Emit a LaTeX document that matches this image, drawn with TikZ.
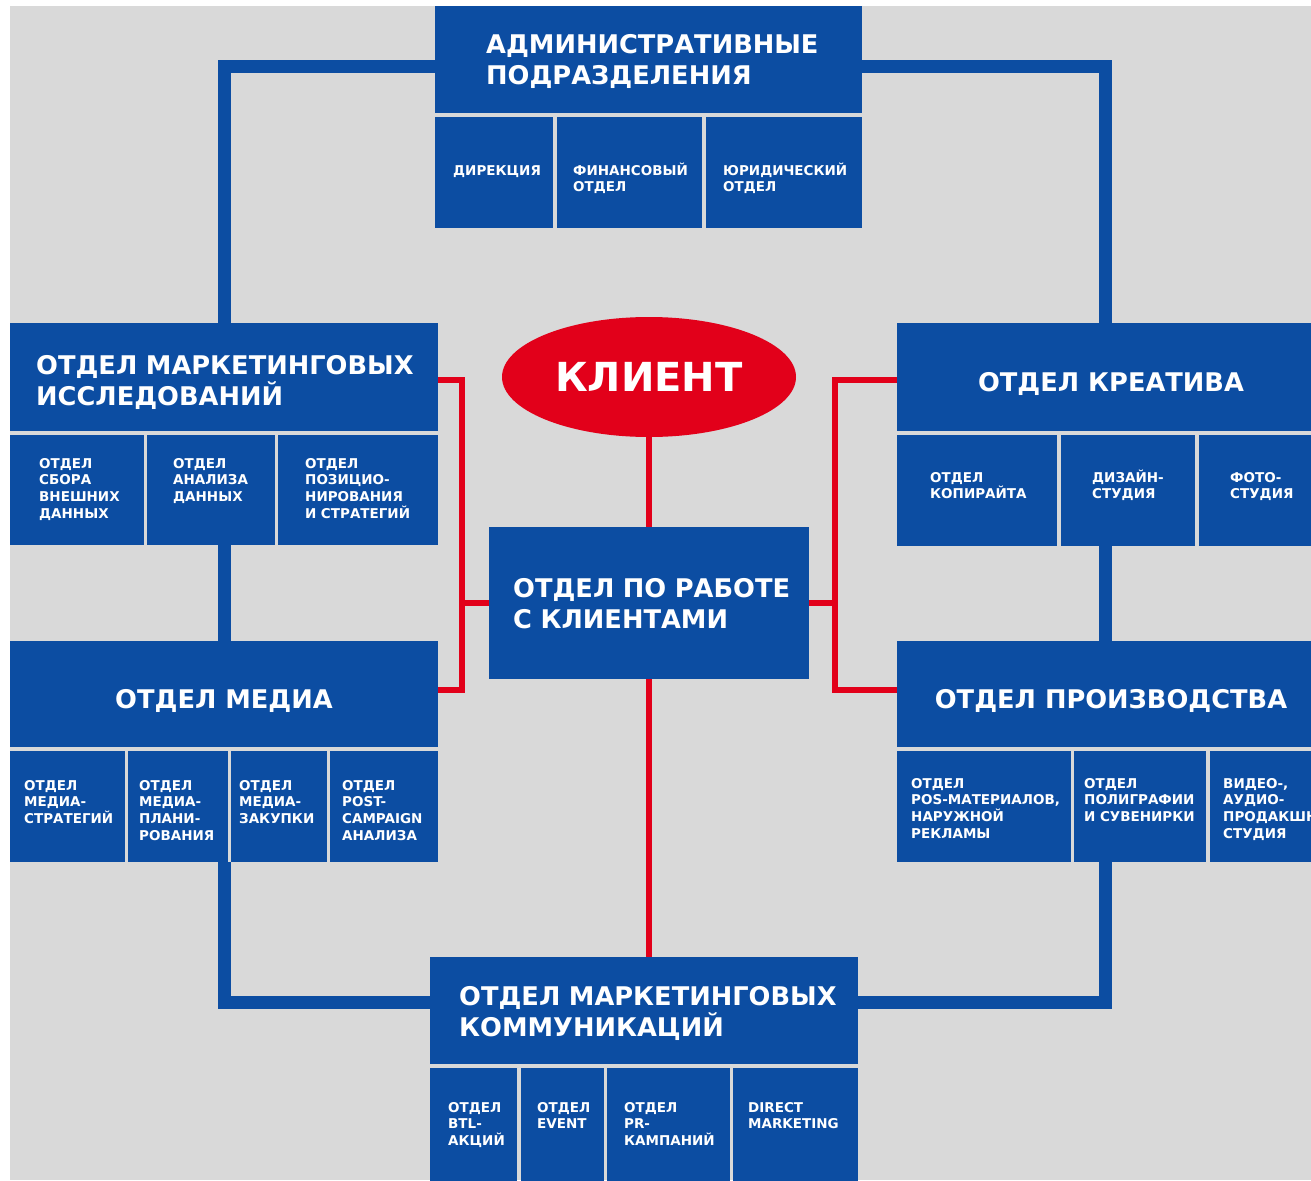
\documentclass[tikz,border=0pt]{standalone}
\usepackage{fontspec}
\setmainfont{DejaVu Sans}
\usepackage{tikz}
\usetikzlibrary{shapes.geometric}
\definecolor{orgblue}{HTML}{0C4DA2}
\definecolor{orgred}{HTML}{E2001A}
\definecolor{orggray}{HTML}{D9D9D9}
\tikzset{/ORG/S/box/.style={
	shape=rectangle, fill=orgblue, inner sep=0pt, outer sep=0pt, anchor=north west
}}
\tikzset{/ORG/S/title/.style={
	text=white, inner sep=0pt, font=\bfseries\fontsize{25.7}{31}\selectfont,
	text width=400pt, align=left, anchor=base west
}}
\tikzset{/ORG/S/caption/.style={
	text=white, inner sep=0pt, font=\bfseries\fontsize{25.7}{31}\selectfont, anchor=base
}}
\tikzset{/ORG/S/note/.style={
	text=white, inner sep=0pt, font=\bfseries\fontsize{13.5}{16.7}\selectfont,
	text width=170pt, align=left, anchor=base west
}}
\tikzset{/ORG/S/client/.style={
	shape=ellipse, fill=orgred, text=white, inner sep=0pt,
	minimum width=294pt, minimum height=120pt, font=\bfseries\fontsize{40}{44}\selectfont
}}
\tikzset{/ORG/S/blueline/.style={draw=orgblue, line width=13pt, line join=miter}}
\tikzset{/ORG/S/redline/.style={draw=orgred, line width=6pt, line join=miter}}

\begin{document}
\begin{tikzpicture}[x=1pt, y=-1pt]
			\useasboundingbox (0,0) rectangle (1311,1180);
			\clip (0,0) rectangle (1311,1180);
			\fill[orggray] (10,6) rectangle (1311,1180);
			\path (435,6) node[/ORG/S/box, minimum width=427pt, minimum height=107pt] (adm) {};
			\path (adm.south west) ++(0,4) node[/ORG/S/box, minimum width=118pt, minimum height=111pt] (dir) {};
			\path (dir.north east) ++(4,0) node[/ORG/S/box, minimum width=145pt, minimum height=111pt] (fin) {};
			\path (fin.north east) ++(4,0) node[/ORG/S/box, minimum width=156pt, minimum height=111pt] (law) {};
			\path (10,323) node[/ORG/S/box, minimum width=428pt, minimum height=108pt] (research) {};
			\path (research.south west) ++(0,4) node[/ORG/S/box, minimum width=134pt, minimum height=110pt] (collect) {};
			\path (collect.north east) ++(3,0) node[/ORG/S/box, minimum width=128pt, minimum height=110pt] (analysis) {};
			\path (analysis.north east) ++(3,0) node[/ORG/S/box, minimum width=160pt, minimum height=110pt] (position) {};
			\path (897,323) node[/ORG/S/box, minimum width=428pt, minimum height=108pt] (creative) {};
			\path (creative.south west) ++(0,4) node[/ORG/S/box, minimum width=160pt, minimum height=111pt] (copy) {};
			\path (copy.north east) ++(4,0) node[/ORG/S/box, minimum width=134pt, minimum height=111pt] (design) {};
			\path (design.north east) ++(4,0) node[/ORG/S/box, minimum width=130pt, minimum height=111pt] (photo) {};
			\path (10,641) node[/ORG/S/box, minimum width=428pt, minimum height=106pt] (media) {};
			\path (media.south west) ++(0,4) node[/ORG/S/box, minimum width=115pt, minimum height=111pt] (strat) {};
			\path (strat.north east) ++(3,0) node[/ORG/S/box, minimum width=100pt, minimum height=111pt] (plan) {};
			\path (plan.north east) ++(3,0) node[/ORG/S/box, minimum width=96pt, minimum height=111pt] (buy) {};
			\path (buy.north east) ++(3,0) node[/ORG/S/box, minimum width=108pt, minimum height=111pt] (post) {};
			\path (897,641) node[/ORG/S/box, minimum width=428pt, minimum height=106pt] (prod) {};
			\path (prod.south west) ++(0,4) node[/ORG/S/box, minimum width=174pt, minimum height=111pt] (pos) {};
			\path (pos.north east) ++(3,0) node[/ORG/S/box, minimum width=132pt, minimum height=111pt] (print) {};
			\path (print.north east) ++(4,0) node[/ORG/S/box, minimum width=120pt, minimum height=111pt] (video) {};
			\path (430,957) node[/ORG/S/box, minimum width=428pt, minimum height=107pt] (comm) {};
			\path (comm.south west) ++(0,4) node[/ORG/S/box, minimum width=87pt, minimum height=130pt] (btl) {};
			\path (btl.north east) ++(4,0) node[/ORG/S/box, minimum width=83pt, minimum height=130pt] (event) {};
			\path (event.north east) ++(3,0) node[/ORG/S/box, minimum width=123pt, minimum height=130pt] (pr) {};
			\path (pr.north east) ++(3,0) node[/ORG/S/box, minimum width=125pt, minimum height=130pt] (direct) {};
			\path (489,527) node[/ORG/S/box, minimum width=320pt, minimum height=152pt] (acc) {};
			\path (649,377) node[/ORG/S/client] (client) {КЛИЕНТ};
			\path (adm.north west) ++(51,48) node[/ORG/S/title] (admT) {АДМИНИСТРАТИВНЫЕ\\ПОДРАЗДЕЛЕНИЯ};
			\path (research.north west) ++(26,51) node[/ORG/S/title] (researchT) {ОТДЕЛ МАРКЕТИНГОВЫХ\\ИССЛЕДОВАНИЙ};
			\path (acc.north west) ++(24,70) node[/ORG/S/title] (accT) {ОТДЕЛ ПО РАБОТЕ\\С КЛИЕНТАМИ};
			\path (comm.north west) ++(29,48) node[/ORG/S/title] (commT) {ОТДЕЛ МАРКЕТИНГОВЫХ\\КОММУНИКАЦИЙ};
			\path (creative.north) ++(0,68) node[/ORG/S/caption] (creativeT) {ОТДЕЛ КРЕАТИВА};
			\path (media.north) ++(0,67) node[/ORG/S/caption] (mediaT) {ОТДЕЛ МЕДИА};
			\path (prod.north) ++(0,67) node[/ORG/S/caption] (prodT) {ОТДЕЛ ПРОИЗВОДСТВА};
			\path (dir.north west) ++(18,58) node[/ORG/S/note] (dirT) {ДИРЕКЦИЯ};
			\path (fin.north west) ++(16,58) node[/ORG/S/note] (finT) {ФИНАНСОВЫЙ\\ОТДЕЛ};
			\path (law.north west) ++(17,58) node[/ORG/S/note] (lawT) {ЮРИДИЧЕСКИЙ\\ОТДЕЛ};
			\path (collect.north west) ++(29,33) node[/ORG/S/note] (collectT) {ОТДЕЛ\\СБОРА\\ВНЕШНИХ\\ДАННЫХ};
			\path (analysis.north west) ++(26,33) node[/ORG/S/note] (analysisT) {ОТДЕЛ\\АНАЛИЗА\\ДАННЫХ};
			\path (position.north west) ++(27,33) node[/ORG/S/note] (positionT) {ОТДЕЛ\\ПОЗИЦИО-\\НИРОВАНИЯ\\И СТРАТЕГИЙ};
			\path (copy.north west) ++(33,47) node[/ORG/S/note] (copyT) {ОТДЕЛ\\КОПИРАЙТА};
			\path (design.north west) ++(31,47) node[/ORG/S/note] (designT) {ДИЗАЙН-\\СТУДИЯ};
			\path (photo.north west) ++(31,47) node[/ORG/S/note] (photoT) {ФОТО-\\СТУДИЯ};
			\path (strat.north west) ++(14,39) node[/ORG/S/note] (stratT) {ОТДЕЛ\\МЕДИА-\\СТРАТЕГИЙ};
			\path (plan.north west) ++(11,39) node[/ORG/S/note] (planT) {ОТДЕЛ\\МЕДИА-\\ПЛАНИ-\\РОВАНИЯ};
			\path (buy.north west) ++(8,39) node[/ORG/S/note] (buyT) {ОТДЕЛ\\МЕДИА-\\ЗАКУПКИ};
			\path (post.north west) ++(12,39) node[/ORG/S/note] (postT) {ОТДЕЛ\\POST-\\CAMPAIGN\\АНАЛИЗА};
			\path (pos.north west) ++(14,37) node[/ORG/S/note] (posT) {ОТДЕЛ\\POS-МАТЕРИАЛОВ,\\НАРУЖНОЙ\\РЕКЛАМЫ};
			\path (print.north west) ++(10,37) node[/ORG/S/note] (printT) {ОТДЕЛ\\ПОЛИГРАФИИ\\И СУВЕНИРКИ};
			\path (video.north west) ++(13,37) node[/ORG/S/note] (videoT) {ВИДЕО-,\\АУДИО-\\ПРОДАКШН\\СТУДИЯ};
			\path (btl.north west) ++(18,44) node[/ORG/S/note] (btlT) {ОТДЕЛ\\BTL-\\АКЦИЙ};
			\path (event.north west) ++(16,44) node[/ORG/S/note] (eventT) {ОТДЕЛ\\EVENT};
			\path (pr.north west) ++(17,44) node[/ORG/S/note] (prT) {ОТДЕЛ\\PR-\\КАМПАНИЙ};
			\path (direct.north west) ++(15,44) node[/ORG/S/note] (directT) {DIRECT\\MARKETING};
			\coordinate (RV) at ([xshift=-6pt]creative.north);
			\coordinate (LH) at ([yshift=8pt]comm.west);
			\coordinate (RH) at ([yshift=8pt]comm.east);
			\coordinate (LR) at (462,0);
			\coordinate (RR) at (835,0);
			\draw[/ORG/S/blueline] ([yshift=-7pt]adm.west) -| (research.north);
			\draw[/ORG/S/blueline] ([yshift=-7pt]adm.east) -| (RV);
			\draw[/ORG/S/blueline] (analysis.south -| research.north) -- (media.north);
			\draw[/ORG/S/blueline] (design.south -| RV) -- (prod.north -| RV);
			\draw[/ORG/S/blueline] (plan.south -| media.north) |- (LH);
			\draw[/ORG/S/blueline] (print.south -| RV) |- (RH);
			\draw[/ORG/S/redline] (client.south) -- (acc.north);
			\draw[/ORG/S/redline] (acc.south) -- (acc.south |- comm.north);
			\draw[/ORG/S/redline] ([yshift=-3pt]research.east) -| ([yshift=4pt]LR |- media.east) -- ([yshift=4pt]media.east);
			\draw[/ORG/S/redline] (acc.west) -- (acc.west -| LR);
			\draw[/ORG/S/redline] ([yshift=-3pt]creative.west) -| ([yshift=4pt]RR |- prod.west) -- ([yshift=4pt]prod.west);
			\draw[/ORG/S/redline] (acc.east) -- (acc.east -| RR);
		\end{tikzpicture}
\end{document}
